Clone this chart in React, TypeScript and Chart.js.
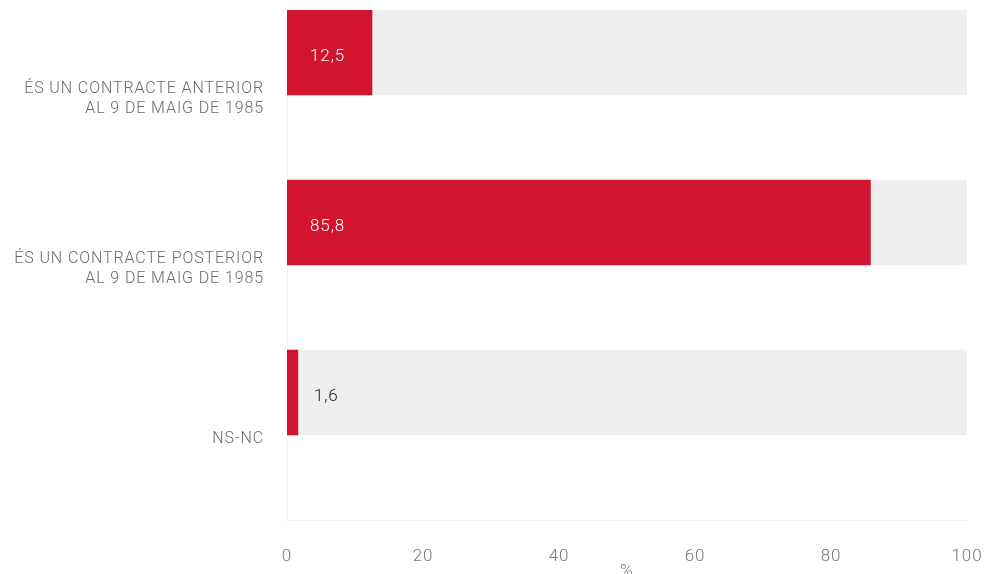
import React, { useEffect, useRef } from "react";
import { Chart, registerables } from "chart.js";

Chart.register(...registerables);

const categories: string[][] = [
  ["ÉS UN CONTRACTE ANTERIOR", "AL 9 DE MAIG DE 1985"],
  ["ÉS UN CONTRACTE POSTERIOR", "AL 9 DE MAIG DE 1985"],
  ["NS-NC"],
];
const values: number[] = [12.5, 85.8, 1.6];
const totals: number[] = [100, 100, 100];
const xTicks: number[] = [0, 20, 40, 60, 80, 100];
const axisTitle = "%";

const FONT = "Roboto, 'Liberation Sans', sans-serif";
const RED = "#d2152f";
const GREY = "#efefef";

const spacing = {
  id: "spacing",
  beforeDraw(chart: any) {
    chart.ctx.letterSpacing = "0.9px";
  },
};

const valueLabels = {
  id: "valueLabels",
  afterDatasetsDraw(chart: any) {
    const meta = chart.getDatasetMeta(0);
    const ctx = chart.ctx;
    ctx.save();
    ctx.font = `300 17px ${FONT}`;
    ctx.textBaseline = "middle";
    ctx.textAlign = "left";
    meta.data.forEach((bar: any, i: number) => {
      const v = values[i];
      const text = v.toFixed(1).replace(".", ",");
      const { x, y, base } = bar.getProps(["x", "y", "base"], true);
      const inside = x - base > 40;
      ctx.fillStyle = inside ? "#ffffff" : "#1a1a1a";
      ctx.fillText(text, inside ? base + 23 : x + 16, y + 4);
    });
    ctx.restore();
  },
};

export default function App() {
  const ref = useRef<HTMLCanvasElement | null>(null);

  useEffect(() => {
    document.body.style.margin = "0";
    if (!ref.current) return;
    const chart = new Chart(ref.current, {
      type: "bar",
      data: {
        labels: categories,
        datasets: [
          {
            data: values,
            backgroundColor: RED,
            stack: "a",
            categoryPercentage: 1,
            barPercentage: 1,
          },
          {
            data: totals,
            backgroundColor: GREY,
            stack: "a",
            categoryPercentage: 1,
            barPercentage: 1,
          },
          {
            data: values.map(() => null),
            backgroundColor: "rgba(0,0,0,0)",
            stack: "b",
            categoryPercentage: 1,
            barPercentage: 1,
          },
        ],
      },
      plugins: [spacing, valueLabels],
      options: {
        indexAxis: "y",
        animation: false,
        responsive: false,
        maintainAspectRatio: false,
        layout: { padding: { top: 10, right: 18, bottom: 0, left: 0 } },
        plugins: {
          legend: { display: false },
          tooltip: { enabled: false },
        },
        scales: {
          y: {
            stacked: true,
            grid: { display: false, drawTicks: false },
            border: { display: true, color: "#f2f2f2" },
            ticks: {
              color: "#6b6b6b",
              padding: 23,
              labelOffset: 4,
              font: { family: FONT, size: 16, weight: 300, lineHeight: 1.25 },
            },
            afterFit: (s: any) => {
              s.width = 287;
              s.paddingTop = 0;
              s.paddingBottom = 0;
            },
          },
          x: {
            stacked: false,
            min: 0,
            max: 100,
            afterBuildTicks: (s: any) => {
              s.ticks = xTicks.map((v) => ({ value: v }));
            },
            grid: { display: false, drawTicks: false },
            border: { display: true, color: "#f2f2f2" },
            ticks: {
              color: "#777777",
              padding: 27,
              font: { family: FONT, size: 17, weight: 300 },
            },
            title: {
              display: true,
              text: axisTitle,
              color: "#777777",
              padding: { top: 0, bottom: -8 },
              font: { family: FONT, size: 17, weight: 300 },
            },
            afterFit: (s: any) => {
              s.height = 54;
              s.paddingLeft = 0;
              s.paddingRight = 0;
            },
          },
        },
      },
    });
    return () => chart.destroy();
  }, []);

  return (
    <div style={{ width: 985, height: 574, position: "relative" }}>
      <canvas ref={ref} width={985} height={574} style={{ width: 985, height: 574 }} />
    </div>
  );
}
